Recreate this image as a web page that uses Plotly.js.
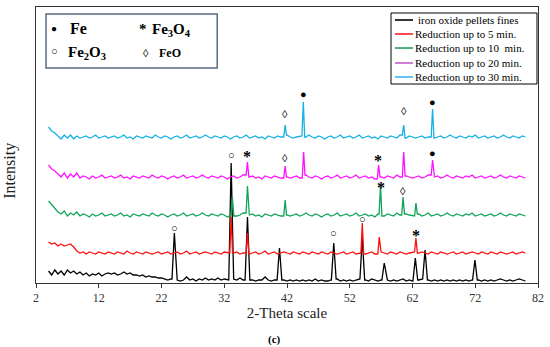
<!DOCTYPE html>
<html><head><meta charset="utf-8">
<script src="https://cdn.plot.ly/plotly-3.0.1.min.js"></script>
<style>html,body{margin:0;padding:0;background:#fff}#chart{width:550px;height:347px}</style>
</head><body><div id="chart"></div>
<script>
// 2-theta sampling grid (degrees)
const theta = [
 4,4.5,5,5.5,6,6.5,7,7.5,8,8.5,9,9.5,10,10.5,11,11.5,12,12.5,13,13.5,
 14,14.5,15,15.5,16,16.5,17,17.5,18,18.5,19,19.5,20,20.5,21,21.5,22,22.5,23,23.5,
 24,24.5,25,25.5,26,26.5,27,27.5,28,28.5,29,29.5,30,30.5,31,31.5,32,32.5,33,33.5,
 34,34.5,35,35.5,36,36.5,37,37.5,38,38.5,39,39.5,40,40.5,41,41.5,42,42.5,43,43.5,
 44,44.5,45,45.5,46,46.5,47,47.5,48,48.5,49,49.5,50,50.5,51,51.5,52,52.5,53,53.5,
 54,54.5,55,55.5,56,56.5,57,57.5,58,58.5,59,59.5,60,60.5,61,61.5,62,62.5,63,63.5,
 64,64.5,65,65.5,66,66.5,67,67.5,68,68.5,69,69.5,70,70.5,71,71.5,72,72.5,73,73.5,
 74,74.5,75,75.5,76,76.5,77,77.5,78,78.5,79,79.5,80
];

const seriesNames = [
 'iron oxide pellets fines',
 'Reduction up to 5 min.',
 'Reduction up to 10  min.',
 'Reduction up to 20 min.',
 'Reduction up to 30 min.'
];

// background intensities (offset patterns, arbitrary units)
const pelletsIntensity = [
 12,8,13,9,12,8,13,10,12,9,11,8,10,7,9,8,10,7,9,10,
 9,10,8,9,11,9,10,8,8,7,8,6,7,6,6,5,5,4,3,4,
 3,3,2,3,6,3,4,2,4,3,5,3,4,3,5,3,4,3,5,4,
 3,5,3,4,2,3,2,3,3,6,3,2,3,3,2,3,2,3,2,3,
 2,3,2,3,2,4,2,3,2,2,3,2,4,2,3,2,3,2,3,4,
 4,3,2,4,3,2,3,2,3,2,3,2,3,4,2,3,2,3,3,4,
 4,3,2,3,2,3,2,3,2,3,2,3,2,3,2,3,4,3,2,3,
 2,3,2,3,4,3,2,3,2,3,4,3,2
];
const red5Intensity = [
 41,39,40,37,39,37,38,39,36,32,30,31,29,31,30,29,31,30,29,31,
 30,29,31,30,29,32,30,29,31,30,29,31,30,29,30,31,29,30,31,29,
 30,31,29,30,32,29,30,31,29,30,31,30,29,31,30,29,31,30,29,30,
 31,29,30,31,29,30,31,29,30,32,29,30,31,29,30,31,30,29,31,30,
 29,31,30,29,31,30,29,31,30,29,31,30,29,30,31,29,30,31,29,30,
 31,29,30,31,29,30,31,30,29,31,30,29,31,30,29,30,31,29,30,31,
 30,29,31,30,29,31,30,29,30,31,29,30,31,29,30,31,30,29,31,30,
 29,31,30,29,31,30,29,30,31,29,30,31,30
];
const red10Intensity = [
 82,78,74,71,69,72,67,70,68,71,67,69,68,66,69,67,68,70,67,68,
 69,67,68,70,67,68,66,69,68,67,69,68,67,70,68,67,69,68,66,68,
 69,67,68,70,67,68,69,67,68,70,68,67,69,68,67,69,68,66,68,69,
 67,68,70,67,68,69,67,68,66,69,68,67,69,68,67,70,68,67,68,69,
 67,68,70,68,67,69,68,66,68,69,67,68,70,67,68,69,67,68,70,67,
 68,69,67,68,66,69,68,67,69,68,67,70,68,67,69,68,67,68,69,67,
 68,70,67,68,69,67,68,70,68,67,69,68,67,69,68,70,67,68,69,67,
 68,69,67,68,70,68,67,69,68,67,69,68,67
];
const red20Intensity = [
 118,114,112,109,106,110,105,109,106,110,105,107,106,104,107,105,106,108,105,106,
 107,105,106,108,105,106,104,107,106,105,107,106,105,108,106,105,107,106,104,106,
 107,105,106,108,105,106,107,105,106,108,106,105,107,106,105,107,106,104,106,107,
 105,106,108,105,106,107,105,106,104,107,106,105,107,106,105,108,106,105,106,107,
 105,106,108,106,105,107,106,104,106,107,105,106,108,105,106,107,105,106,108,105,
 106,107,105,106,104,107,106,105,107,106,105,108,106,105,107,106,105,106,107,105,
 106,108,105,106,107,105,106,108,106,105,107,106,105,107,106,108,105,106,107,105,
 106,107,105,106,108,106,105,107,106,105,107,106,105
];
const red30Intensity = [
 156,152,150,147,144,148,145,148,144,147,145,146,147,145,146,148,145,146,147,145,
 146,147,145,146,148,145,146,144,147,146,145,147,146,145,148,146,145,147,146,144,
 146,147,145,146,148,145,146,147,145,146,148,146,145,147,146,145,147,146,144,146,
 147,145,146,148,145,146,147,145,146,144,147,146,145,147,146,145,148,146,145,146,
 147,145,146,148,146,145,147,146,144,146,147,145,146,148,145,146,147,145,146,148,
 145,146,147,145,146,144,147,146,145,147,146,145,148,146,145,147,146,145,146,147,
 145,146,148,145,146,147,145,146,148,146,145,147,146,145,147,146,148,145,146,147,
 145,146,147,145,146,148,146,145,147,146,145,147,146
];

// diffraction peaks: position (2-theta) and peak-top intensity
const pelletsPeakTheta = [24.05, 33.1, 35.7, 40.8, 49.45, 54.0, 57.5, 62.45, 64.0, 71.95];
const pelletsPeakTop   = [50, 120, 66, 35, 40, 45, 20, 25, 33, 23];
const red5PeakTheta  = [33.1, 35.7, 54.0, 56.7, 62.55];
const red5PeakTop    = [66, 50, 60, 46, 45];
const red10PeakTheta = [33.3, 35.7, 41.7, 56.9, 60.5, 62.55];
const red10PeakTop   = [86, 97, 83, 98, 86, 80];
const red20PeakTheta = [35.7, 41.7, 44.65, 56.6, 60.6, 65.2];
const red20PeakTop   = [121, 117, 131, 118, 131, 123];
const red30PeakTheta = [41.7, 44.6, 60.6, 65.2];
const red30PeakTop   = [158, 181, 158, 174];

// phase labels over peaks
const labelTheta     = [24.05, 33.1, 35.7, 41.7, 41.7, 44.6, 49.45, 54.0, 56.5, 56.9, 60.5, 60.6, 62.55, 65.2, 65.2];
const labelIntensity = [55, 128, 130, 125, 169, 189, 50, 64, 126, 99, 92, 172, 51, 130, 181];
const labelSymbol    = ['○','○','*','◊','◊','●','○','○','*','*','◊','◊','*','●','●'];

const xTickValues = [2, 12, 22, 32, 42, 52, 62, 72, 82];

function buildSeries(base, peakX, peakY, hw) {
  const pts = [];
  theta.forEach((t, i) => {
    if (!peakX.some(p => t > p - hw && t < p + hw)) pts.push([t, base[i]]);
  });
  peakX.forEach((p, k) => {
    let iL = 0, iR = theta.length - 1;
    for (let i = 0; i < theta.length; i++) { if (theta[i] <= p - hw) iL = i; }
    for (let i = theta.length - 1; i >= 0; i--) { if (theta[i] >= p + hw) iR = i; }
    pts.push([p - hw, base[iL]], [p, peakY[k]], [p + hw, base[iR]]);
  });
  pts.sort((a, b) => a[0] - b[0]);
  return {x: pts.map(d => d[0]), y: pts.map(d => d[1])};
}

const bases = [pelletsIntensity, red5Intensity, red10Intensity, red20Intensity, red30Intensity];
const pkX = [pelletsPeakTheta, red5PeakTheta, red10PeakTheta, red20PeakTheta, red30PeakTheta];
const pkY = [pelletsPeakTop, red5PeakTop, red10PeakTop, red20PeakTop, red30PeakTop];
const colors = ['#000000', '#ff1010', '#10a557', '#ff10ff', '#15b0e8'];
const legendColors = ['#000000', '#ff2020', '#20a060', '#c060c8', '#40b8e8'];
const halfWidths = [0.38, 0.22, 0.22, 0.22, 0.22];

const traces = bases.map((b, s) => {
  const d = buildSeries(b, pkX[s], pkY[s], halfWidths[s]);
  return {x: d.x, y: d.y, type: 'scatter', mode: 'lines', name: seriesNames[s],
          line: {color: colors[s], width: 1.3}, hoverinfo: 'skip', showlegend: false};
});

const serif = '"Times New Roman", "Liberation Serif", Times, serif';
const annotations = labelTheta.map((t, i) => {
  const star = labelSymbol[i] === '*';
  return {
    x: t, y: labelIntensity[i], xref: 'x', yref: 'y',
    text: star ? '<b>*</b>' : labelSymbol[i], showarrow: false,
    xanchor: 'center', yanchor: 'middle',
    font: {family: serif, size: star ? 16 : 11, color: '#000'},
    yshift: star ? -3 : 0
  };
});

// phase key (top-left box)
const keyItems = [
  {x: 0.036, y: 0.922, text: '●', size: 10, anchor: 'center'},
  {x: 0.064, y: 0.922, text: '<b>Fe</b>', size: 16, anchor: 'left'},
  {x: 0.213, y: 0.922, text: '<b>*</b>', size: 15, anchor: 'center'},
  {x: 0.228, y: 0.916, text: '<b>Fe<sub>3</sub>O<sub>4</sub></b>', size: 15, anchor: 'left'},
  {x: 0.037, y: 0.840, text: '○', size: 11, anchor: 'center'},
  {x: 0.060, y: 0.835, text: '<b>Fe<sub>2</sub>O<sub>3</sub></b>', size: 15, anchor: 'left'},
  {x: 0.220, y: 0.833, text: '◊', size: 11, anchor: 'center'},
  {x: 0.242, y: 0.833, text: '<b>FeO</b>', size: 12, anchor: 'left'}
];
keyItems.forEach(k => annotations.push({
  x: k.x, y: k.y, xref: 'paper', yref: 'paper', text: k.text, showarrow: false,
  xanchor: k.anchor, yanchor: 'middle', font: {family: serif, size: k.size, color: '#000'}
}));
annotations.push({x: 0.476, y: -0.2065, xref: 'paper', yref: 'paper', text: '<b>(c)</b>', showarrow: false,
  xanchor: 'center', yanchor: 'middle', font: {family: serif, size: 11, color: '#000'}});
annotations.push({x: -0.052, y: 0.406, xref: 'paper', yref: 'paper', text: 'Intensity', showarrow: false,
  textangle: -90, xanchor: 'center', yanchor: 'middle', font: {family: serif, size: 16, color: '#222'}});

// series key (top-right box)
const shapes = [{type: 'rect', xref: 'paper', yref: 'paper', x0: 0.02, x1: 0.361, y0: 0.779, y1: 0.975,
                 line: {color: '#5a6a80', width: 1.5}, fillcolor: 'rgba(0,0,0,0)'},
                {type: 'rect', xref: 'paper', yref: 'paper', x0: 0.7072, x1: 0.998, y0: 0.721, y1: 0.9783,
                 line: {color: '#000', width: 1}, fillcolor: '#fff'}];
const keyRowY = [0.9529, 0.9022, 0.8514, 0.7971, 0.7464];
seriesNames.forEach((nm, s) => {
  shapes.push({type: 'line', xref: 'paper', yref: 'paper', x0: 0.715, x1: 0.751,
               y0: keyRowY[s], y1: keyRowY[s], line: {color: legendColors[s], width: 1.6}});
  annotations.push({x: s === 0 ? 0.757 : 0.751, y: keyRowY[s], xref: 'paper', yref: 'paper', text: nm,
                    showarrow: false, xanchor: 'left', yanchor: 'middle',
                    font: {family: serif, size: 11, color: '#000'}});
});

const layout = {
  width: 550, height: 347,
  margin: {l: 36, r: 12, t: 7, b: 64},
  paper_bgcolor: '#fff', plot_bgcolor: '#fff',
  showlegend: false,
  xaxis: {range: [2, 82], tickvals: xTickValues, ticktext: xTickValues.map(String),
          ticks: 'outside', ticklen: 4, tickcolor: '#333', showline: true, linecolor: '#333',
          linewidth: 1, mirror: true, showgrid: false, zeroline: false,
          tickfont: {family: serif, size: 12, color: '#333'},
          title: {text: '2-Theta scale', font: {family: serif, size: 15, color: '#222'}, standoff: 2}},
  yaxis: {range: [0, 276], showticklabels: false, ticks: '', showline: true, linecolor: '#333',
          linewidth: 1, mirror: true, showgrid: false, zeroline: false},
  shapes: shapes,
  annotations: annotations
};

Plotly.newPlot('chart', traces, layout, {displayModeBar: false, staticPlot: true});
</script></body></html>
